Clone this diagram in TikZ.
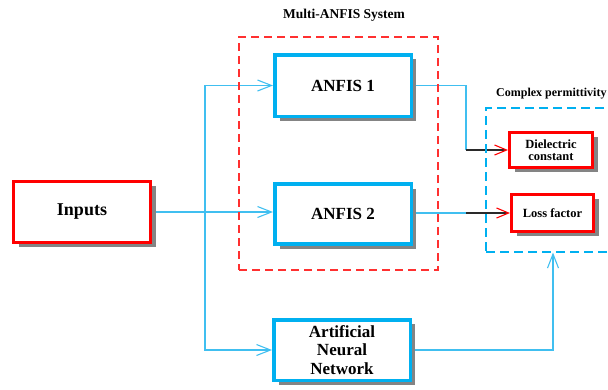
\documentclass[tikz,border=0pt]{standalone}
\usepackage{fontspec}
\setmainfont{Liberation Serif}
\usetikzlibrary{arrows.meta,shadows,backgrounds}
\definecolor{cy}{HTML}{00B0F0}
\definecolor{cyl}{HTML}{40BFF0}
\definecolor{rd}{HTML}{FF0000}
\definecolor{rdd}{HTML}{FF3030}
\definecolor{sh}{HTML}{848484}
\definecolor{blk}{HTML}{2A2A2A}
\begin{document}
\begin{tikzpicture}[x=1pt,y=-1pt,
  shad/.style={drop shadow={shadow xshift=5pt,shadow yshift=-4.5pt,fill=sh,opacity=1}},
  bluebox/.style={shad,draw=cy,line width=3.5pt,fill=white,inner sep=0pt,align=center,
    minimum width=136.5pt,font=\fontsize{17}{18.5}\selectfont\bfseries},
  redbox/.style={shad,draw=rd,line width=3pt,fill=white,inner sep=0pt,align=center,
    font=\fontsize{18}{18.5}\selectfont\bfseries},
  smallred/.style={shad,draw=rd,line width=3pt,fill=white,inner sep=0pt,align=center,
    font=\fontsize{12.5}{12.5}\selectfont\bfseries},
  lbl/.style={font=\fontsize{13.5}{14}\selectfont\bfseries,inner sep=0pt},
  cline/.style={draw=cyl,line width=1.2pt},
  arr/.style={-{Straight Barb[length=14pt,width=11pt,line width=1.1pt]}},
  rarr/.style={-{Straight Barb[length=12pt,width=10pt,line width=1.1pt,color=rd]}}
]
\useasboundingbox (0,0) rectangle (608,389);
% group boxes
\node[draw=rdd,dashed,dash pattern=on 8pt off 5pt,line width=1.1pt,minimum width=199pt,minimum height=233pt,inner sep=0pt] (mas) at (338.5,153.5) {};
\node[lbl] (maslbl) at (344,15) {Multi-ANFIS System};
\node[draw=cy,dashed,dash pattern=on 9pt off 5pt,line width=1.1pt,minimum width=134pt,minimum height=144pt,inner sep=0pt] (cp) at (553,180) {};
\node[lbl,font=\fontsize{12}{13}\selectfont\bfseries,anchor=west] (cplbl) at (496,94) {Complex permittivity};
% blocks
\node[redbox,minimum width=137pt,minimum height=61pt] (in) at (82,212) {Inputs};
\node[bluebox,minimum height=61.5pt] (a1) at (343,85.5) {ANFIS 1};
\node[bluebox,minimum height=60pt] (a2) at (343,214) {ANFIS 2};
\node[bluebox,minimum height=60.5pt] (ann) at (342,350) {Artificial\\Neural\\Network};
\node[smallred,minimum width=83pt,minimum height=35pt] (d) at (551,150) {Dielectric\\constant};
\node[smallred,minimum width=82pt,minimum height=37pt] (l) at (552.5,213) {Loss factor};
% connectors
\coordinate (j0) at (205,0 |- in.east);
\coordinate (j1) at (466,0 |- d.west);
\coordinate (j2) at (466,0 |- l.west);
\begin{pgfonlayer}{background}
\draw[cline] (in.east) -- (j0);
\draw[cline,arr] (j0) -- (j0 -| a2.west);
\draw[cline,arr] (j0) |- (a1.west);
\draw[cline,arr] (j0) |- (ann.west);
\draw[cline] (a1.east) -| (j1);
\draw[draw=blk,line width=1.2pt,rarr] (j1) -- (d.west);
\draw[cline] (a2.east |- l.west) -- (j2);
\draw[draw=blk,line width=1.2pt,rarr] (j2) -- (l.west);
\draw[cline,arr] (ann.east) -| (cp.south);
\end{pgfonlayer}
\end{tikzpicture}
\end{document}
